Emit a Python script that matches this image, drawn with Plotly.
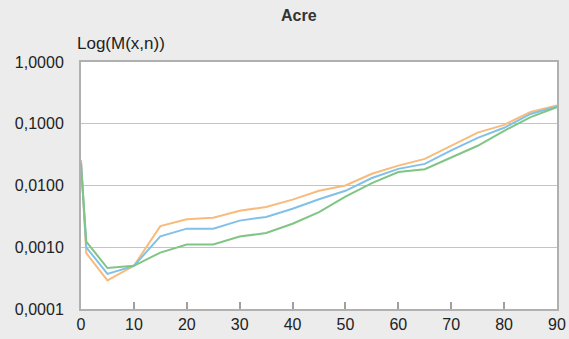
import plotly.graph_objects as go

ages = [0, 1, 5, 10, 15, 20, 25, 30, 35, 40, 45, 50, 55, 60, 65, 70, 75, 80, 85, 90]
orange_vals = [0.026, 0.00080, 0.00029, 0.00050, 0.0022, 0.00285, 0.0030, 0.0039, 0.0045, 0.0059,
               0.0082, 0.0100, 0.0155, 0.021, 0.027, 0.044, 0.072, 0.096, 0.155, 0.198]
blue_vals = [0.024, 0.0010, 0.00037, 0.00050, 0.0015, 0.0020, 0.0020, 0.0027, 0.0031, 0.0042,
             0.0060, 0.0082, 0.0132, 0.0186, 0.0224, 0.037, 0.059, 0.086, 0.144, 0.190]
green_vals = [0.022, 0.00123, 0.00046, 0.00050, 0.00082, 0.00111, 0.00111, 0.00149, 0.0017, 0.0024,
              0.0037, 0.0066, 0.0109, 0.0165, 0.0184, 0.0284, 0.044, 0.077, 0.128, 0.186]
y_tickvals = [0.0001, 0.001, 0.01, 0.1, 1.0]
y_ticktext = ["0,0001", "0,0010", "0,0100", "0,1000", "1,0000"]
x_tickvals = [0, 10, 20, 30, 40, 50, 60, 70, 80, 90]

fig = go.Figure()
for vals, col in [(orange_vals, "#f8bb7c"), (blue_vals, "#80c1e8"), (green_vals, "#80c584")]:
    fig.add_trace(go.Scatter(x=ages, y=vals, mode="lines", line=dict(color=col, width=2),
                             showlegend=False))

L, R, T, B = 81, 12, 62, 30
W, H = 569, 339
pw = W - L - R
ph = H - T - B

fig.update_layout(
    width=W, height=H,
    paper_bgcolor="#ebeceb", plot_bgcolor="#ffffff",
    margin=dict(l=L, r=R, t=T, b=B, autoexpand=False),
    font=dict(family="Liberation Sans, Arial, sans-serif", size=16, color="#222222"),
    xaxis=dict(range=[0, 90], tickvals=x_tickvals, ticks="inside", ticklen=7, tickwidth=1.5,
               tickcolor="#a0a0a0", tickfont=dict(size=16),
               showgrid=False, showline=True, linecolor="#b0b0b0", linewidth=2, mirror=True,
               zeroline=False, automargin=False),
    yaxis=dict(type="log", range=[-4, 0], tickvals=y_tickvals, ticktext=y_ticktext,
               showgrid=True, gridcolor="#c4c4c4", gridwidth=1, showline=True,
               linecolor="#b0b0b0", linewidth=2, mirror=True, zeroline=False,
               ticklabelstandoff=12, automargin=False),
    annotations=[
        dict(text="<b>Acre</b>", x=(299 - L) / pw, y=(H - B - 15) / ph, xref="paper", yref="paper",
             showarrow=False, xanchor="center", yanchor="middle",
             font=dict(size=16, color="#333333")),
        dict(text="Log(M(x,n))", x=(75 - L) / pw, y=(H - B - 43) / ph, xref="paper", yref="paper",
             showarrow=False, xanchor="left", yanchor="middle",
             font=dict(size=17, color="#222222")),
    ],
)

fig.write_html("out.html", config={"displayModeBar": False},
               post_script="document.body.style.margin='0';document.body.style.overflow='hidden';")
